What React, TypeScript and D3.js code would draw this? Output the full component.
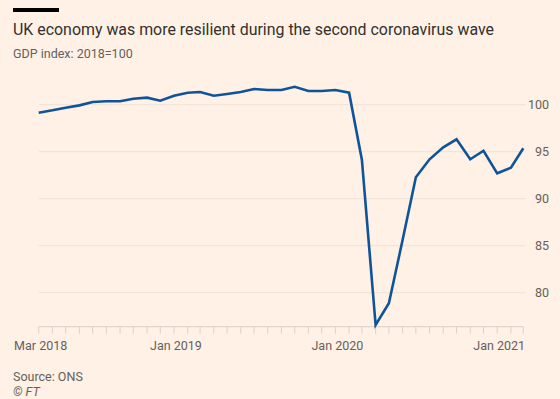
import React from 'react'
import * as d3 from 'd3'

// GDP index, monthly, Mar 2018 - Mar 2021 (2018 = 100)
const startMonth = new Date(2018, 2, 1)
const gdp = [
  99.15, 99.4, 99.68, 99.93, 100.29, 100.36, 100.36, 100.64, 100.75, 100.43,
  100.96, 101.28, 101.35, 100.96, 101.14, 101.35, 101.67, 101.56, 101.56, 101.91,
  101.46, 101.46, 101.56, 101.28, 94.12, 76.56, 78.87, 85.6, 92.28, 94.19,
  95.47, 96.32, 94.19, 95.1, 92.7, 93.3, 95.36
]
const yTicks = [80, 85, 90, 95, 100]
const xLabels = [
  { date: new Date(2018, 2, 1), label: 'Mar 2018' },
  { date: new Date(2019, 0, 1), label: 'Jan 2019' },
  { date: new Date(2020, 0, 1), label: 'Jan 2020' },
  { date: new Date(2021, 0, 1), label: 'Jan 2021' }
]

const title = 'UK economy was more resilient during the second coronavirus wave'
const subtitle = 'GDP index: 2018=100'
const source = 'Source: ONS'

const W = 560
const H = 399
const font = 'Roboto, "Noto Sans", sans-serif'

export default function App() {
  const data = gdp.map((v, i) => ({ date: d3.timeMonth.offset(startMonth, i), value: v }))

  const x = d3.scaleTime()
    .domain(d3.extent(data, d => d.date) as [Date, Date])
    .range([38.7, 523.3])
  const y = d3.scaleLinear().domain([76.38, 100]).range([326.7, 104.7])

  const line = d3.line<{ date: Date, value: number }>()
    .x(d => x(d.date))
    .y(d => y(d.value))

  const months = d3.timeMonth.range(startMonth, d3.timeMonth.offset(startMonth, 37))
  const [x0, x1] = x.range()

  return (
    <div style={{ position: 'fixed', left: 0, top: 0 }}>
      <svg width={W} height={H} style={{ display: 'block', background: '#fff1e5' }}>
        <rect x={13} y={8} width={46} height={4} fill="#000" />
        <text x={13} y={35} fontFamily={font} fontSize={16.8} fill="#33302e"
          textLength={481} lengthAdjust="spacingAndGlyphs">{title}</text>
        <text x={13} y={58} fontFamily={font} fontSize={12.5} fill="#66605c">{subtitle}</text>

        <g>
          {yTicks.map(t => (
            <g key={t}>
              <line x1={x0} x2={x1 + 2} y1={y(t)} y2={y(t)} stroke="#efe1d5" strokeWidth={1} />
              <text x={549} y={y(t)} dy="0.35em" textAnchor="end" fontFamily={font} fontSize={12.5} fill="#66605c">{t}</text>
            </g>
          ))}
        </g>

        <g>
          <line x1={x0} x2={x1} y1={y.range()[0]} y2={y.range()[0]} stroke="#ddd0c4" strokeWidth={1} />
          {months.map((m, i) => (
            <line key={i} x1={x(m)} x2={x(m)} y1={y.range()[0]} y2={y.range()[0] + 7} stroke="#ddd0c4" strokeWidth={1} />
          ))}
          {xLabels.map(l => (
            <text key={l.label} x={x(l.date) + 2} y={350} textAnchor="middle" fontFamily={font} fontSize={12.5} fill="#66605c">{l.label}</text>
          ))}
        </g>

        <path d={line(data) || ''} fill="none" stroke="#0f5499" strokeWidth={2.6} strokeLinejoin="miter" />

        <text x={13} y={381} fontFamily={font} fontSize={12.5} fill="#66605c">{source}</text>
        <text x={13} y={396} fontFamily={font} fontSize={12.5} fontStyle="italic" fill="#66605c">© FT</text>
      </svg>
    </div>
  )
}
